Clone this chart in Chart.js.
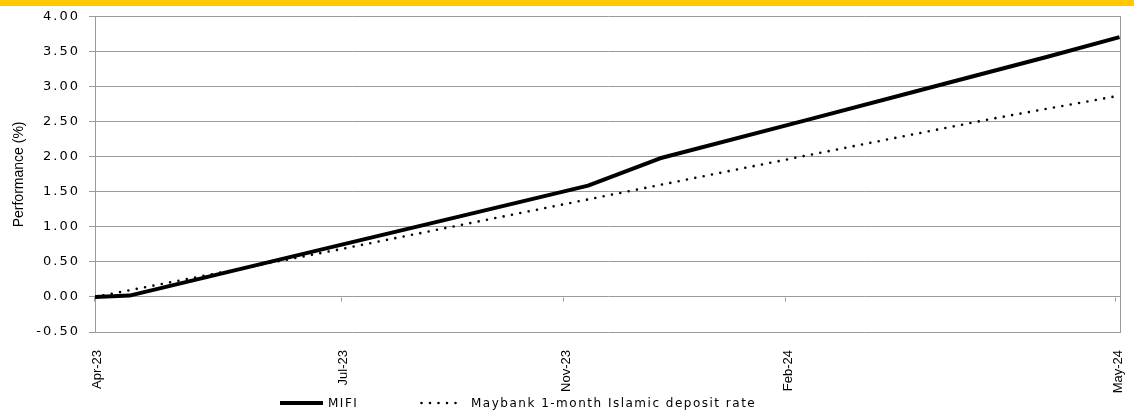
<!DOCTYPE html>
<html lang="en">
<head>
  <meta charset="UTF-8" />
  <title>MIFI vs Maybank 1-month Islamic deposit rate</title>
  <script src="https://cdn.jsdelivr.net/npm/chart.js"></script>
  <style>
    html, body { margin: 0; padding: 0; background: #fff; }
    #wrap { position: relative; width: 1134px; height: 412px; overflow: hidden; }
    #topbar { position: absolute; left: 0; top: 0; width: 1134px; height: 6px; background: #FFC800; }
    #chartBox { position: absolute; left: 0; top: 0; width: 1134px; height: 412px; }
    #legend { position: absolute; left: 0; top: 395px; width: 1134px; height: 16px;
              font: 12px 'DejaVu Sans', sans-serif; letter-spacing: 1.5px; color: #000; }
    .item { position: absolute; top: 0; height: 16px; display: flex; align-items: center; white-space: nowrap; }
  </style>
</head>
<body>
<div id="wrap">
  <div id="chartBox"><canvas id="perfChart"></canvas></div>
  <div id="topbar"></div>
  <div id="legend"></div>
</div>

<script>
  // x positions are weeks from the start of the axis (Apr-23)
  const tickLabels = ['Apr-23', 'Jul-23', 'Nov-23', 'Feb-24', 'May-24'];
  const tickWeeks = [0, 14.74, 28.02, 41.3, 61];

  const mifiWeeks = [0, 2.06, 14.62, 21.8, 29.46, 33.76, 42.73, 49.91, 56.91, 61.21];
  const mifiPerf = [0.00, 0.02, 0.74, 1.15, 1.59, 1.98, 2.54, 2.99, 3.43, 3.71];

  const depositWeeks = [0, 14.62, 28.98, 42.73, 53.5, 61.1];
  const depositPerf = [0.00, 0.68, 1.37, 2.03, 2.54, 2.87];

  const seriesNames = ['MIFI', 'Maybank 1-month Islamic deposit rate'];
  const legendLeft = [280, 420];

  const gridGrey = '#9a9a9a';
  const yLabelSpacing = '2px';

  const toPoints = (xs, ys) => xs.map((x, i) => ({ x, y: ys[i] }));

  // y tick labels are drawn after the datasets (ticks.z = 1) so only they get letter spacing
  const spacedYLabels = {
    id: 'spacedYLabels',
    beforeDraw(c) { c.ctx.letterSpacing = '0px'; },
    afterDatasetsDraw(c) { c.ctx.letterSpacing = yLabelSpacing; },
    afterDraw(c) { c.ctx.letterSpacing = '0px'; }
  };

  // right border of the plot and small x tick marks on the zero line
  const frame = {
    id: 'frame',
    afterDraw(c) {
      const { ctx, chartArea, scales } = c;
      ctx.save();
      ctx.strokeStyle = gridGrey;
      ctx.lineWidth = 1;
      ctx.beginPath();
      const r = Math.round(chartArea.right) - 0.5;
      ctx.moveTo(r, chartArea.top);
      ctx.lineTo(r, chartArea.bottom);
      const y0 = Math.round(scales.y.getPixelForValue(0)) + 0.5;
      tickWeeks.forEach(v => {
        const px = Math.round(scales.x.getPixelForValue(v)) - 0.5;
        ctx.moveTo(px, y0);
        ctx.lineTo(px, y0 + 4);
      });
      ctx.stroke();
      ctx.restore();
    }
  };

  const chart = new Chart(document.getElementById('perfChart'), {
    type: 'line',
    data: {
      datasets: [
        {
          label: seriesNames[0],
          data: toPoints(mifiWeeks, mifiPerf),
          borderColor: '#000',
          borderWidth: 4,
          borderJoinStyle: 'round',
          pointRadius: 0,
          tension: 0
        },
        {
          label: seriesNames[1],
          data: toPoints(depositWeeks, depositPerf),
          borderColor: '#000',
          borderWidth: 2.6,
          borderDash: [0, 8.5],
          borderCapStyle: 'round',
          pointRadius: 0,
          tension: 0
        }
      ]
    },
    options: {
      responsive: true,
      maintainAspectRatio: false,
      animation: false,
      layout: { padding: { top: 16, right: 13, bottom: 0, left: 0 } },
      plugins: {
        legend: { display: false },
        tooltip: { enabled: false }
      },
      scales: {
        x: {
          type: 'linear',
          min: 0,
          max: 61.3,
          afterBuildTicks: s => { s.ticks = tickWeeks.map(v => ({ value: v })); },
          afterFit: s => { s.height = 80; s.paddingLeft = 0; s.paddingRight = 0; },
          grid: { display: false },
          border: { display: false },
          ticks: {
            autoSkip: false,
            minRotation: 90,
            maxRotation: 90,
            padding: 10,
            labelOffset: 2,
            color: '#000',
            font: { family: "'Liberation Sans', Arial, sans-serif", size: 13 },
            callback: (v, i) => tickLabels[i]
          }
        },
        y: {
          min: -0.5,
          max: 4,
          afterFit: s => { s.width = 95; },
          grid: { color: gridGrey, lineWidth: 1, tickLength: 6 },
          border: { color: gridGrey },
          ticks: {
            stepSize: 0.5,
            padding: 9,
            z: 1,
            color: '#000',
            font: { family: "'DejaVu Sans', sans-serif", size: 13 },
            callback: v => v.toFixed(2)
          },
          title: {
            display: true,
            text: 'Performance (%)',
            color: '#000',
            font: { family: "'Liberation Sans', Arial, sans-serif", size: 14 },
            padding: { top: 11, bottom: 0 }
          }
        }
      }
    },
    plugins: [spacedYLabels, frame]
  });

  // legend built from the datasets
  const legend = document.getElementById('legend');
  chart.data.datasets.forEach((ds, i) => {
    const item = document.createElement('div');
    item.className = 'item';
    item.style.left = legendLeft[i] + 'px';
    const dash = ds.borderDash ? ds.borderDash.join(' ') : 'none';
    const cap = ds.borderCapStyle || 'butt';
    item.innerHTML =
      `<svg width="43" height="8"><line x1="${cap === 'round' ? 1.5 : 0}" y1="4" x2="43" y2="4" stroke="${ds.borderColor}"
        stroke-width="${ds.borderWidth}" stroke-dasharray="${dash}" stroke-linecap="${cap}"/></svg>` +
      `<span style="margin-left:${i === 0 ? 5 : 8}px">${ds.label}</span>`;
    legend.appendChild(item);
  });
</script>
</body>
</html>
